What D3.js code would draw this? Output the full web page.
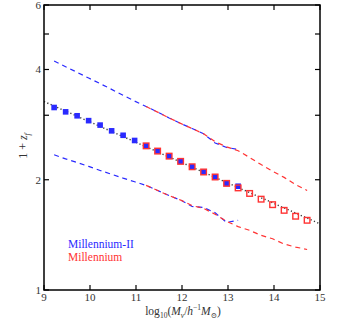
<!DOCTYPE html>
<html><head><meta charset="utf-8">
<script src="https://cdn.jsdelivr.net/npm/d3@7"></script>
<style>body{margin:0;background:#fff}svg{display:block}</style>
</head><body>
<script>
// ---- data ----
const mii_x = [9.22,9.47,9.72,9.97,10.22,10.47,10.72,10.97,11.22,11.47,11.72,11.97,12.22,12.47,12.72,12.97,13.22];
const mii_med = [3.15,3.065,2.99,2.90,2.82,2.72,2.645,2.56,2.475,2.395,2.32,2.245,2.17,2.10,2.035,1.955,1.92];
const mii_hi  = [4.22,4.07,3.93,3.79,3.66,3.53,3.40,3.28,3.17,3.06,2.95,2.85,2.76,2.67,2.52,2.45,2.42];
const mii_lo  = [2.34,2.28,2.23,2.175,2.12,2.07,2.02,1.975,1.93,1.87,1.81,1.76,1.69,1.68,1.625,1.53,1.55];
const mil_x = [11.22,11.47,11.72,11.97,12.22,12.47,12.72,12.97,13.22,13.47,13.72,13.97,14.22,14.47,14.72];
const mil_med = [2.475,2.395,2.32,2.245,2.17,2.10,2.035,1.955,1.90,1.835,1.77,1.71,1.65,1.59,1.55];
const mil_hi  = [3.17,3.06,2.95,2.85,2.76,2.67,2.54,2.46,2.40,2.30,2.20,2.11,2.03,1.94,1.87];
const mil_lo  = [1.93,1.87,1.81,1.76,1.70,1.67,1.61,1.54,1.49,1.455,1.41,1.38,1.335,1.31,1.29];
const fit_x = [9, 15];
const fit_y = [3.27, 1.516];
const xTicks = [9,10,11,12,13,14,15];
const yTicks = [1,2,3,4,5,6];
const yTickLabels = [1,2,4,6];
const legend = ["Millennium-II","Millennium"];

const W=339,H=326, L=44,R=320,T=5,B=290;
const blue="#2a2aff", red="#ff3333";
const svg=d3.select("body").append("svg").attr("width",W).attr("height",H);
const x=d3.scaleLinear().domain([9,15]).range([L,R]);
const y=d3.scaleLog().domain([1,6]).range([B,T]);
const font="'Liberation Serif','DejaVu Serif',serif";

svg.append("defs").append("clipPath").attr("id","c").append("rect")
  .attr("x",L).attr("y",T).attr("width",R-L).attr("height",B-T);
const g=svg.append("g").attr("clip-path","url(#c)");
const line=(xs,ys)=>d3.line().x((d,i)=>x(xs[i])).y(d=>y(d))(ys);

// fit dotted line
g.append("path").attr("d",line(fit_x,fit_y)).attr("fill","none")
  .attr("stroke","#333").attr("stroke-width",1.4).attr("stroke-dasharray","1.2,2.4");

// dashed lines
[[mii_x,mii_hi,blue],[mii_x,mii_lo,blue],[mil_x,mil_hi,red],[mil_x,mil_lo,red]].forEach(([xs,ys,c])=>{
  g.append("path").attr("d",line(xs,ys)).attr("fill","none").attr("stroke",c)
   .attr("stroke-width",1.2).attr("stroke-dasharray","5,4");
});

// blue filled squares
g.selectAll(".b").data(mii_med).join("rect")
  .attr("x",(d,i)=>x(mii_x[i])-2.8).attr("y",d=>y(d)-2.8).attr("width",5.6).attr("height",5.6)
  .attr("fill",blue);
// red hollow squares
g.selectAll(".r").data(mil_med).join("rect")
  .attr("x",(d,i)=>x(mil_x[i])-2.8).attr("y",d=>y(d)-2.8).attr("width",5.6).attr("height",5.6)
  .attr("fill","none").attr("stroke",red).attr("stroke-width",1.4);

// axes frame
const ax=svg.append("g").attr("stroke","#000");
ax.append("rect").attr("x",L).attr("y",T).attr("width",R-L).attr("height",B-T)
  .attr("fill","none").attr("stroke-width",1.5);
xTicks.forEach(t=>{
  ax.append("line").attr("x1",x(t)).attr("x2",x(t)).attr("y1",B).attr("y2",B-5).attr("stroke-width",1.2);
  ax.append("line").attr("x1",x(t)).attr("x2",x(t)).attr("y1",T).attr("y2",T+5).attr("stroke-width",1.2);
});
yTicks.forEach(t=>{
  ax.append("line").attr("x1",L).attr("x2",L+5).attr("y1",y(t)).attr("y2",y(t)).attr("stroke-width",1.2);
  ax.append("line").attr("x1",R).attr("x2",R-5).attr("y1",y(t)).attr("y2",y(t)).attr("stroke-width",1.2);
});
const tc="#333";
xTicks.forEach(t=>{
  svg.append("text").attr("x",x(t)).attr("y",B+11).attr("text-anchor","middle")
   .attr("font-family",font).attr("font-size",11).attr("fill",tc).text(t);
});
yTickLabels.forEach(t=>{
  svg.append("text").attr("x",L-3).attr("y",y(t)+4).attr("text-anchor","end")
   .attr("font-family",font).attr("font-size",11).attr("fill",tc).text(t);
});

// x label
const xl=svg.append("text").attr("x",183).attr("y",315).attr("text-anchor","middle")
  .attr("font-family",font).attr("font-size",11.5).attr("fill",tc);
xl.append("tspan").text("log");
xl.append("tspan").attr("font-size",7.5).attr("dy",3).text("10");
xl.append("tspan").attr("dy",-3).text("(");
xl.append("tspan").attr("font-style","italic").text("M");
xl.append("tspan").attr("font-size",7.5).attr("font-style","italic").attr("dy",3).text("v");
xl.append("tspan").attr("dy",-3).text("/");
xl.append("tspan").attr("font-style","italic").text("h");
xl.append("tspan").attr("font-size",7.5).attr("dy",-5).text("−1");
xl.append("tspan").attr("font-style","italic").attr("dy",5).text("M");
xl.append("tspan").attr("font-size",7.5).attr("dy",3).text("⊙");
xl.append("tspan").attr("dy",-3).text(")");

// y label
const yl=svg.append("text").attr("transform","translate(27,146) rotate(-90)").attr("text-anchor","middle")
  .attr("font-family",font).attr("font-size",12).attr("fill",tc);
yl.append("tspan").text("1 + ");
yl.append("tspan").attr("font-style","italic").text("z");
yl.append("tspan").attr("font-style","italic").attr("font-size",8).attr("dy",3).text("f");

// legend
svg.append("text").attr("x",68).attr("y",247.5).attr("font-family",font).attr("font-size",11.5)
  .attr("fill",blue).text(legend[0]);
svg.append("text").attr("x",68).attr("y",260.5).attr("font-family",font).attr("font-size",11.5)
  .attr("fill",red).text(legend[1]);
</script>
</body></html>
